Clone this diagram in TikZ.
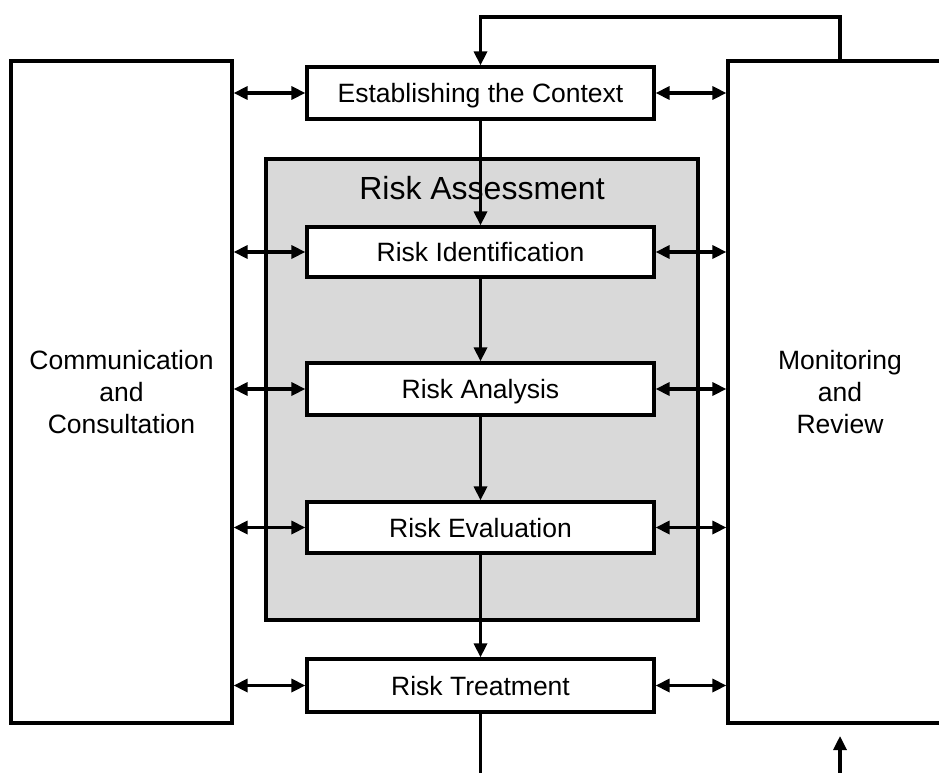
\documentclass[tikz,border=0pt]{standalone}
\usepackage{fontspec}
\setmainfont{Liberation Sans}
\usetikzlibrary{arrows.meta}
\definecolor{panelgray}{RGB}{217,217,217}
\begin{document}
\begin{tikzpicture}[x=1pt,y=-1pt,
  line width=3.2pt,
  tip/.tip={Triangle[length=14pt,width=13pt]},
  procbox/.style={draw,fill=white,minimum width=347pt,inner sep=0pt,
    text height=19pt,text depth=0pt,
    font=\fontsize{26.5}{32}\selectfont},
  sidebox/.style={draw,fill=white,minimum height=662pt,inner sep=0pt,align=center,
    font=\fontsize{26.5}{32}\selectfont},
  flow/.style={-tip},
  link/.style={tip-tip}]
\clip (0,0) rectangle (939,773);
\fill[white] (0,0) rectangle (939,773);

% side panels
\node[sidebox,minimum width=221pt] (comm) at (121.5,392) {Communication\\and\\Consultation};
\node[sidebox,minimum width=224pt] (mon) at (840,392) {Monitoring\\and\\Review};

% risk assessment panel
\node[draw,fill=panelgray,minimum width=432pt,minimum height=461pt] (ra) at (482,389.5) {};
\node[font=\fontsize{32}{36}\selectfont,inner sep=0pt,text height=23pt,text depth=0pt] (ratitle) at (482,188) {Risk Assessment};

% process steps
\node[procbox,minimum height=52pt] (ctx) at (480.5,93) {Establishing the Context};
\node[procbox,minimum height=50pt] (id) at (480.5,252) {Risk Identification};
\node[procbox,minimum height=52pt] (an) at (480.5,389) {Risk Analysis};
\node[procbox,minimum height=51pt] (ev) at (480.5,527.5) {Risk Evaluation};
\node[procbox,minimum height=53pt] (tr) at (480.5,685.5) {Risk Treatment};

% main flow
\draw[flow] (ctx) -- (id);
\draw[flow] (id) -- (an);
\draw[flow] (an) -- (ev);
\draw[flow] (ev) -- (tr);

% feedback loop from monitoring back to the context
\draw[flow] (mon.north) -- (840,17) -| (ctx.north);

% open ends at the bottom
\coordinate (trout) at (480.5,773);
\coordinate (monin) at (840,773);
\coordinate (montip) at (840,736);
\draw (tr.south) -- (trout);
\draw[flow] (monin) -- (montip);

% links to communication and monitoring
\foreach \n in {ctx,id,an,ev,tr}{
  \draw[link] (comm.east |- \n.west) -- (\n.west);
  \draw[link] (\n.east) -- (mon.west |- \n.east);
}
\end{tikzpicture}
\end{document}
